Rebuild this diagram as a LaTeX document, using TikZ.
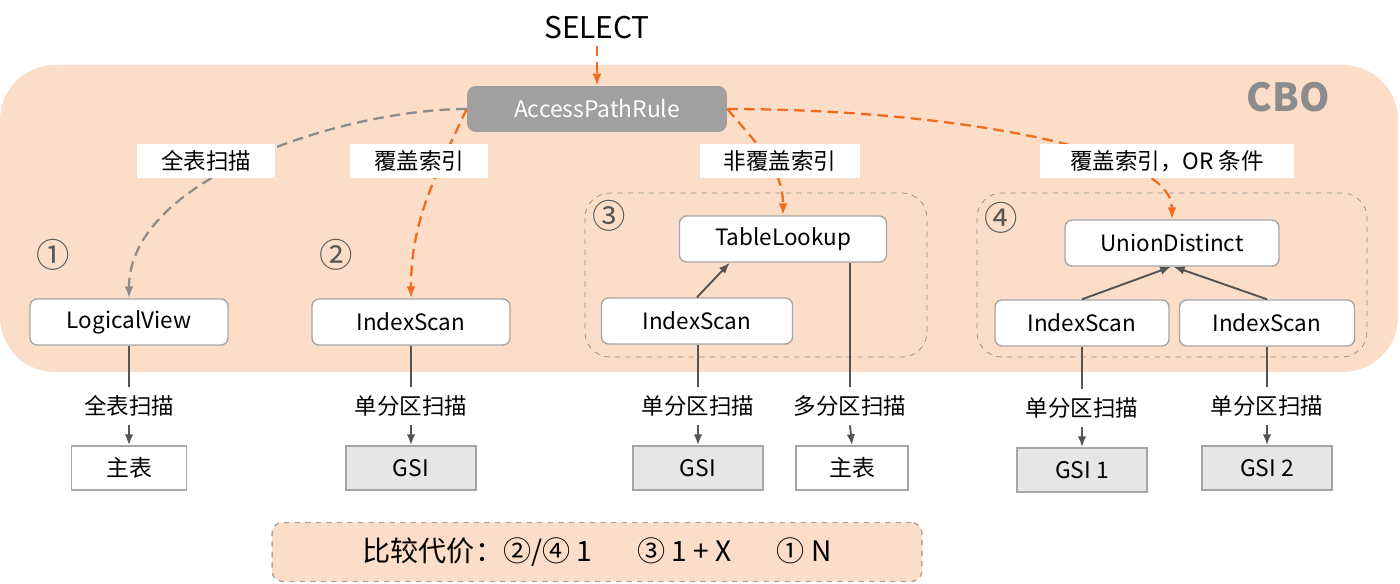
\documentclass[tikz,border=0pt]{standalone}
\usepackage{fontspec}
\setmainfont{Noto Sans CJK SC}
\usetikzlibrary{positioning,arrows.meta}
\definecolor{cboFondo}{HTML}{FCDEC8}
\definecolor{cboNaranja}{HTML}{F26B1D}
\definecolor{cboGris}{HTML}{8C8C8C}
\definecolor{cboBorde}{HTML}{A6A6A6}
\definecolor{cboOscuro}{HTML}{555555}
\definecolor{cboRegla}{HTML}{A0A0A0}
\definecolor{cboIndice}{HTML}{E6E6E6}
\tikzset{
  operador/.style={rectangle, rounded corners=4pt, draw=cboBorde, thick,
    fill=white, minimum height=0.92cm, align=center,
    font=\fontsize{12.8}{14}\selectfont},
  regla/.style={rectangle, rounded corners=5pt, fill=cboRegla, text=white,
    minimum width=5.2cm, minimum height=0.92cm,
    font=\fontsize{13}{15}\selectfont},
  tabla/.style={rectangle, draw=cboBorde, thick, fill=white,
    minimum width=2.3cm, minimum height=0.88cm,
    font=\fontsize{13}{15}\selectfont},
  indice/.style={tabla, fill=cboIndice, minimum width=2.6cm},
  etiqueta/.style={rectangle, fill=white, minimum height=0.68cm,
    font=\fontsize{12.8}{14}\selectfont},
  paso/.style={inner sep=0pt, minimum height=0.76cm,
    font=\fontsize{12.8}{14}\selectfont},
  numero/.style={text=cboOscuro, font=\fontsize{19}{21}\selectfont},
  grupo/.style={draw=cboGris, dashed, rounded corners=0.5cm},
  flechaOp/.style={-{Latex[length=2.2mm,width=1.7mm]}, line width=1.1pt, cboOscuro},
  lineaOp/.style={-, line width=1.1pt, cboOscuro},
  curvaNaranja/.style={-{Latex[length=2.4mm,width=1.8mm]}, line width=1.3pt,
    dash pattern=on 6pt off 3.5pt, cboNaranja},
  curvaGris/.style={-{Latex[length=2.4mm,width=1.8mm]}, line width=1.3pt,
    dash pattern=on 6pt off 3.5pt, cboGris},
}
\begin{document}
\begin{tikzpicture}[x=0.02cm,y=-0.02cm]
    \useasboundingbox (0,0) rectangle (1400,584);
    % fondo CBO y grupos
    \fill[cboFondo, rounded corners=1.1cm] (0,65) rectangle (1398,372);
    \node[text=cboGris, font=\fontsize{22}{24}\selectfont\bfseries] (cbo) at (1288,97) {CBO};
    \draw[grupo] (585,193) rectangle (927,357);
    \draw[grupo] (977,193) rectangle (1367,357);

    \node[font=\fontsize{17}{19}\selectfont] (sel) at (597,28) {SELECT};
    \node[regla] (apr) at (597,109) {AccessPathRule};

    % planes
    \node[numero] (n1) at (53,255) {①};
    \node[numero] (n2) at (336,255) {②};
    \node[numero] (n3) at (609,216) {③};
    \node[numero] (n4) at (1001,218) {④};
    \node[operador, minimum width=3.96cm] (lv)  at (129,322) {LogicalView};
    \node[operador, minimum width=3.96cm] (is2) at (411,322) {IndexScan};
    \node[operador, minimum width=4.14cm] (tl)  at (783,239) {TableLookup};
    \node[operador, minimum width=3.82cm] (is3) at (697,321) {IndexScan};
    \node[operador, minimum width=4.28cm] (ud)  at (1172,243) {UnionDistinct};
    \node[operador, minimum width=3.48cm] (is4a) at (1082,323) {IndexScan};
    \node[operador, minimum width=3.5cm]  (is4b) at (1267,323) {IndexScan};

    % tablas
    \node[paso] (p1) at (129,406) {全表扫描};
    \node[paso] (p2) at (411,406) {单分区扫描};
    \node[paso] (p3) at (698,406) {单分区扫描};
    \node[paso] (p3b) at (850,406) {多分区扫描};
    \node[paso] (p4a) at (1082,408) {单分区扫描};
    \node[paso] (p4b) at (1267,406) {单分区扫描};
    \node[tabla]  (t1) at (129,468) {主表};
    \node[indice] (g2) at (411,468) {GSI};
    \node[indice] (g3) at (698,468) {GSI};
    \node[tabla, minimum width=2.24cm] (t3) at (852,468) {主表};
    \node[indice] (g4a) at (1082,470) {GSI 1};
    \node[indice] (g4b) at (1267,468) {GSI 2};

    \draw[lineaOp] (lv.south) -- (p1.north);
    \draw[lineaOp] (is2.south) -- (p2.north);
    \draw[lineaOp] (is3.south -| p3.north) -- (p3.north);
    \draw[lineaOp] (tl.south -| p3b.north) -- (p3b.north);
    \draw[lineaOp] (is4a.south) -- (p4a.north);
    \draw[lineaOp] (is4b.south) -- (p4b.north);
    \foreach \a/\b in {p1/t1,p2/g2,p3/g3,p3b/t3,p4a/g4a,p4b/g4b}{\draw[flechaOp] (\a.south) -- (\b.north);}
    \draw[flechaOp] (is3.north) -- (tl.204);
    \draw[flechaOp] (is4a.north) -- (ud.268);
    \draw[flechaOp] (is4b.north) -- (ud.274);

    % caminos de acceso
    \draw[curvaNaranja] (sel.south) -- (apr.north);
    \draw[curvaGris] (apr.west) to[out=180, in=90, looseness=0.8] (lv.north);
    \draw[curvaNaranja] (apr.west) to[out=-115, in=90] (is2.north);
    \draw[curvaNaranja] (apr.east) to[out=-50, in=90] (tl.north);
    \draw[curvaNaranja] (apr.east) to[out=0, in=90, out looseness=1.2, in looseness=0.4] (ud.north);
    \node[etiqueta, minimum width=2.76cm] (e1) at (206,161) {全表扫描};
    \node[etiqueta, minimum width=2.76cm] (e2) at (419,161) {覆盖索引};
    \node[etiqueta, minimum width=3.2cm]  (e3) at (780,161) {非覆盖索引};
    \node[etiqueta, minimum width=5.1cm]  (e4) at (1167,161) {覆盖索引，OR 条件};

    % coste
    \node[draw=cboBorde, dashed, thick, fill=cboFondo, rounded corners=6pt,
      minimum width=13cm, minimum height=1.18cm,
      font=\fontsize{16}{18}\selectfont] (coste) at (597,552)
      {比较代价：②/④ 1\hspace{1.6em}③ 1 + X\hspace{1.6em}① N};
  \end{tikzpicture}
\end{document}
